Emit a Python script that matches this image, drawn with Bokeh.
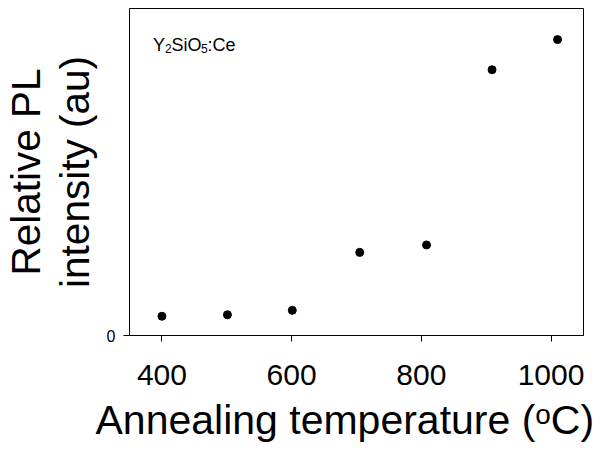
from bokeh.plotting import figure
from bokeh.models import Range1d, FixedTicker, Label, ColumnDataSource, Title
from bokeh.embed import file_html
from bokeh.resources import INLINE

# Data
temperature = [400, 501, 601, 705, 808, 909, 1010]
intensity = [0.065, 0.070, 0.085, 0.281, 0.306, 0.898, 1.0]
x_ticks = [400, 600, 800, 1000]
y_ticks = [0]
x_label = "Annealing temperature (\u1d52C)"
y_label = "Relative PL\nintensity (au)"

X0, X1 = 350, 1050
Y0, Y1 = 0, 1.105

FONT = "Liberation Sans"

p = figure(width=596, height=450, output_backend="svg", toolbar_location=None,
           x_range=Range1d(X0, X1), y_range=Range1d(Y0, Y1),
           min_border_left=121, min_border_right=13, min_border_top=8,
           min_border_bottom=115)
p.background_fill_color = "white"
p.border_fill_color = "white"
p.outline_line_color = "black"
p.outline_line_width = 1
p.grid.visible = False

for ax in (p.xaxis[0], p.yaxis[0]):
    ax.axis_line_color = "black"
    ax.major_tick_line_color = "black"
    ax.major_tick_out = 6
    ax.major_tick_in = 0
    ax.minor_tick_line_color = None
    ax.major_label_text_font = FONT
    ax.major_label_text_color = "black"

p.xaxis.ticker = FixedTicker(ticks=x_ticks)
p.xaxis.major_label_text_font_size = "30px"
p.xaxis.major_label_standoff = 23
p.yaxis.ticker = FixedTicker(ticks=y_ticks)
p.yaxis.major_label_text_font_size = "16px"
p.yaxis.major_label_standoff = 8

p.yaxis.axis_label = y_label
p.yaxis.axis_label_text_font = FONT
p.yaxis.axis_label_text_font_size = "40.5px"
p.yaxis.axis_label_text_font_style = "normal"
p.yaxis.axis_label_text_color = "black"
p.yaxis.axis_label_text_line_height = 1.05
p.yaxis.axis_label_standoff = 6

p.add_layout(Title(text=x_label, align="left", offset=-34, standoff=15,
                   text_font=FONT, text_font_size="41px",
                   text_font_style="normal", text_color="black"), "below")

src = ColumnDataSource(dict(t=temperature, v=intensity))
p.scatter("t", "v", source=src, marker="circle", size=8,
          fill_color="black", line_color="black")

# reference-pixel (frame at 129..591 x 8..335) -> data helpers for the annotation
FL, FR, FT, FB = 129, 591, 8, 335
def dx(px):
    return X0 + (px - FL) * (X1 - X0) / (FR - FL)
def dy(py):
    return Y0 + (FB - py) * (Y1 - Y0) / (FB - FT)

def lab(text, px, py, size):
    p.add_layout(Label(x=dx(px), y=dy(py), text=text,
                       text_font=FONT, text_font_size=size,
                       text_color="black", text_align="left",
                       text_baseline="alphabetic"))

# In-plot annotation Y2SiO5:Ce
lab("Y", 153, 44, "18px")
lab("2", 165, 48, "12px")
lab("SiO", 171.7, 44, "18px")
lab("5", 201.7, 48, "12px")
lab(":Ce", 208.4, 44, "18px")

open("out.html", "w").write(file_html(p, INLINE))
